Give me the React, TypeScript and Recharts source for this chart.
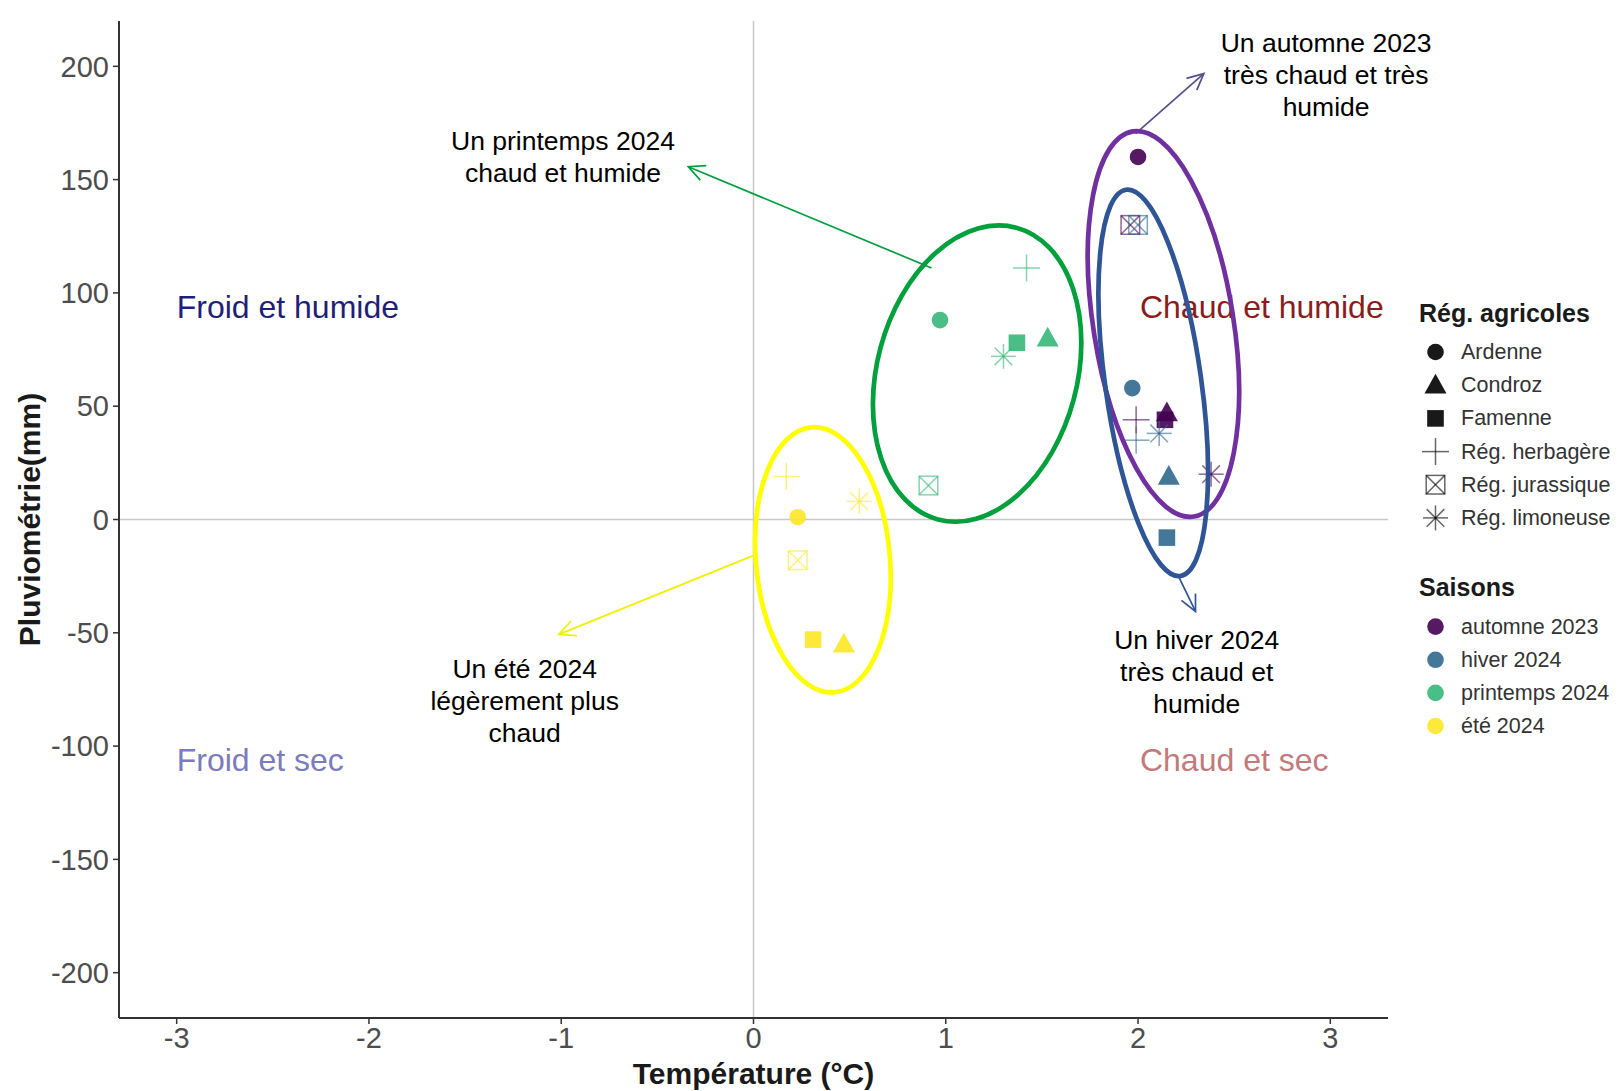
import React from "react";
import { ReferenceDot, ReferenceLine, Scatter, ScatterChart, XAxis, YAxis, Label } from "recharts";

const regions = ["Ardenne", "Condroz", "Famenne", "Rég. herbagère", "Rég. jurassique", "Rég. limoneuse"];
const seasons = ["automne 2023", "hiver 2024", "printemps 2024", "été 2024"];
const seasonColors = ["#440154", "#31688e", "#35b779", "#fde725"];

// temperature anomaly (°C) and rainfall anomaly (mm), ordered like `regions`
const tempAutomne = [2.0, 2.15, 2.14, 1.99, 1.96, 2.38];
const rainAutomne = [160, 47, 44, 44, 130, 20];
const tempHiver = [1.97, 2.16, 2.15, 1.99, 2.0, 2.11];
const rainHiver = [58, 19, -8, 35, 130, 38];
const tempPrintemps = [0.97, 1.53, 1.37, 1.42, 0.91, 1.3];
const rainPrintemps = [88, 80, 78, 111, 15, 72];
const tempEte = [0.23, 0.47, 0.31, 0.17, 0.23, 0.55];
const rainEte = [1, -55, -53, 19, -18, 8];

const xTicks = [-3, -2, -1, 0, 1, 2, 3];
const yTicks = [-200, -150, -100, -50, 0, 50, 100, 150, 200];

const seasonTemps = [tempAutomne, tempHiver, tempPrintemps, tempEte];
const seasonRains = [rainAutomne, rainHiver, rainPrintemps, rainEte];

const seasonData = seasons.map((s, si) =>
  regions.map((r, i) => ({ x: seasonTemps[si][i], y: seasonRains[si][i], region: r, season: s }))
);

const quadrants = [
  { text: "Froid et humide", x: -3.0, y: 94, color: "#1f1f7a" },
  { text: "Chaud et humide", x: 2.01, y: 94, color: "#8b1c1c" },
  { text: "Froid et sec", x: -3.0, y: -106, color: "#7b7bbd" },
  { text: "Chaud et sec", x: 2.01, y: -106, color: "#c27a7a" },
];

const ellipses = [
  { x: 0.361, y: -17.8, rx: 67, ry: 133, angle: -5, color: "#ffff00" },
  { x: 1.163, y: 64.4, rx: 100, ry: 151, angle: 15, color: "#00a03c" },
  { x: 2.132, y: 86.3, rx: 70, ry: 195, angle: -9, color: "#7030a0" },
  { x: 2.079, y: 60.3, rx: 48, ry: 195, angle: -8, color: "#2f5597" },
];

const arrows = [
  { from: [0.926, 111], to: [-0.339, 155.7], color: "#00a03c" },
  { from: [1.987, 170.3], to: [2.342, 196.8], color: "#594c8c" },
  { from: [0.011, -15.5], to: [-1.012, -50.7], color: "#f0f000" },
  { from: [2.208, -24.7], to: [2.299, -40.6], color: "#2f5597" },
];

const notes = [
  { lines: ["Un printemps 2024", "chaud et humide"], x: -0.991, y: 167 },
  { lines: ["Un automne 2023", "très chaud et très", "humide"], x: 2.978, y: 210.5 },
  { lines: ["Un été 2024", "légèrement plus", "chaud"], x: -1.19, y: -65.8 },
  { lines: ["Un hiver 2024", "très chaud et", "humide"], x: 2.305, y: -53 },
];

const FONT = "'Liberation Sans', Arial, sans-serif";

function Marker({ region, color, cx, cy }: { region: string; color: string; cx: number; cy: number }) {
  const thin = { stroke: color, strokeWidth: 1.5, strokeOpacity: 0.6, fill: "none" };
  switch (region) {
    case "Ardenne":
      return <circle cx={cx} cy={cy} r={8.3} fill={color} fillOpacity={0.9} />;
    case "Condroz":
      return (
        <polygon
          points={`${cx},${cy - 11.5} ${cx - 11},${cy + 8.3} ${cx + 11},${cy + 8.3}`}
          fill={color}
          fillOpacity={0.9}
        />
      );
    case "Famenne":
      return <rect x={cx - 8.3} y={cy - 8.3} width={16.6} height={16.6} fill={color} fillOpacity={0.9} />;
    case "Rég. herbagère":
      return (
        <g {...thin}>
          <line x1={cx - 13.5} y1={cy} x2={cx + 13.5} y2={cy} />
          <line x1={cx} y1={cy - 13.5} x2={cx} y2={cy + 13.5} />
        </g>
      );
    case "Rég. jurassique":
      return (
        <g {...thin}>
          <rect x={cx - 9.3} y={cy - 9.3} width={18.6} height={18.6} />
          <line x1={cx - 9.3} y1={cy - 9.3} x2={cx + 9.3} y2={cy + 9.3} />
          <line x1={cx - 9.3} y1={cy + 9.3} x2={cx + 9.3} y2={cy - 9.3} />
        </g>
      );
    default:
      return (
        <g {...thin}>
          <line x1={cx - 12.5} y1={cy} x2={cx + 12.5} y2={cy} />
          <line x1={cx} y1={cy - 12.5} x2={cx} y2={cy + 12.5} />
          <line x1={cx - 8.8} y1={cy - 8.8} x2={cx + 8.8} y2={cy + 8.8} />
          <line x1={cx - 8.8} y1={cy + 8.8} x2={cx + 8.8} y2={cy - 8.8} />
        </g>
      );
  }
}

function Arrow(props: any) {
  const { x1, y1, x2, y2, color } = props;
  const a = Math.atan2(y2 - y1, x2 - x1);
  const len = 18;
  const spread = 0.45;
  const p1 = [x2 - len * Math.cos(a - spread), y2 - len * Math.sin(a - spread)];
  const p2 = [x2 - len * Math.cos(a + spread), y2 - len * Math.sin(a + spread)];
  return (
    <g stroke={color} strokeWidth={1.7} fill="none">
      <line x1={x1} y1={y1} x2={x2} y2={y2} />
      <polyline points={`${p1[0]},${p1[1]} ${x2},${y2} ${p2[0]},${p2[1]}`} />
    </g>
  );
}

function Legend() {
  const itemY = [62, 95.3, 128.4, 161.6, 194.7, 227.9];
  const seasonY = [336.6, 369.8, 402.9, 436];
  return (
    <svg
      width={220}
      height={460}
      style={{ position: "absolute", left: 1392, top: 282, fontFamily: FONT }}
    >
      <text x={19} y={23} dominantBaseline="central" fontSize={25} fontWeight="bold" fill="#1a1a1a">
        Rég. agricoles
      </text>
      {regions.map((r, i) => (
        <g key={r}>
          <Marker region={r} color="#000" cx={35.5} cy={itemY[i]} />
          <text x={61} y={itemY[i]} dominantBaseline="central" fontSize={21.5} fill="#333">
            {r}
          </text>
        </g>
      ))}
      <text x={19} y={297.3} dominantBaseline="central" fontSize={25} fontWeight="bold" fill="#1a1a1a">
        Saisons
      </text>
      {seasons.map((s, i) => (
        <g key={s}>
          <circle cx={35.5} cy={seasonY[i]} r={8.3} fill={seasonColors[i]} fillOpacity={0.9} />
          <text x={61} y={seasonY[i]} dominantBaseline="central" fontSize={21.5} fill="#333">
            {s}
          </text>
        </g>
      ))}
    </svg>
  );
}

export default function App() {
  return (
    <div style={{ position: "relative", width: 1610, height: 1083, fontFamily: FONT }}>
      <ScatterChart width={1610} height={1083} margin={{ top: 13, right: 230, left: 12, bottom: 13 }}>
        <XAxis
          type="number"
          dataKey="x"
          domain={[-3.3, 3.3]}
          ticks={xTicks}
          allowDataOverflow
          height={60}
          tick={{ fontSize: 29, fill: "#4d4d4d", fontFamily: FONT }}
          tickSize={6}
          tickMargin={3}
          axisLine={{ stroke: "#333", strokeWidth: 2 }}
          tickLine={{ stroke: "#333", strokeWidth: 1.5 }}
        >
          <Label
            content={({ viewBox }: any) => (
              <text
                x={viewBox.x + viewBox.width / 2}
                y={viewBox.y + 55}
                textAnchor="middle"
                dominantBaseline="central"
                fontSize={30}
                fontWeight="bold"
                fill="#1a1a1a"
                fontFamily={FONT}
              >
                Température (°C)
              </text>
            )}
          />
        </XAxis>
        <YAxis
          type="number"
          dataKey="y"
          domain={[-220, 220]}
          ticks={yTicks}
          allowDataOverflow
          width={99}
          tick={{ fontSize: 29, fill: "#4d4d4d", fontFamily: FONT }}
          tickSize={6}
          tickMargin={4}
          axisLine={{ stroke: "#333", strokeWidth: 2 }}
          tickLine={{ stroke: "#333", strokeWidth: 1.5 }}
        >
          <Label
            content={({ viewBox }: any) => {
              const cx = viewBox.x + 9;
              const cy = viewBox.y + viewBox.height / 2;
              return (
                <text
                  x={cx}
                  y={cy}
                  transform={`rotate(-90 ${cx} ${cy})`}
                  textAnchor="middle"
                  dominantBaseline="central"
                  fontSize={30}
                  fontWeight="bold"
                  fill="#1a1a1a"
                  fontFamily={FONT}
                >
                  Pluviométrie(mm)
                </text>
              );
            }}
          />
        </YAxis>
        <ReferenceLine x={0} stroke="#c8c8c8" strokeWidth={1.5} />
        <ReferenceLine y={0} stroke="#c8c8c8" strokeWidth={1.5} />
        {quadrants.map((q) => (
          <ReferenceDot
            key={q.text}
            x={q.x}
            y={q.y}
            r={0}
            ifOverflow="visible"
            shape={(p: any) => (
              <text x={p.cx} y={p.cy} dominantBaseline="central" fontSize={32} fill={q.color} fontFamily={FONT}>
                {q.text}
              </text>
            )}
          />
        ))}
        {seasons.map((s, si) => (
          <Scatter
            key={s}
            name={s}
            data={seasonData[si]}
            isAnimationActive={false}
            shape={(p: any) => <Marker region={p.payload.region} color={seasonColors[si]} cx={p.cx} cy={p.cy} />}
          />
        ))}
        {ellipses.map((e, i) => (
          <ReferenceDot
            key={`ell-${i}`}
            x={e.x}
            y={e.y}
            r={0}
            ifOverflow="visible"
            shape={(p: any) => (
              <ellipse
                cx={p.cx}
                cy={p.cy}
                rx={e.rx}
                ry={e.ry}
                transform={`rotate(${e.angle} ${p.cx} ${p.cy})`}
                fill="none"
                stroke={e.color}
                strokeWidth={4.7}
              />
            )}
          />
        ))}
        {arrows.map((a, i) => (
          <ReferenceLine
            key={`arr-${i}`}
            segment={[
              { x: a.from[0], y: a.from[1] },
              { x: a.to[0], y: a.to[1] },
            ]}
            ifOverflow="visible"
            shape={(p: any) => <Arrow {...p} color={a.color} />}
          />
        ))}
        {notes.map((n, i) => (
          <ReferenceDot
            key={`note-${i}`}
            x={n.x}
            y={n.y}
            r={0}
            ifOverflow="visible"
            shape={(p: any) => (
              <text textAnchor="middle" fontSize={26.5} fill="#000" fontFamily={FONT}>
                {n.lines.map((l, j) => (
                  <tspan key={j} x={p.cx} y={p.cy + j * 32} dominantBaseline="central">
                    {l}
                  </tspan>
                ))}
              </text>
            )}
          />
        ))}
      </ScatterChart>
      <Legend />
    </div>
  );
}
